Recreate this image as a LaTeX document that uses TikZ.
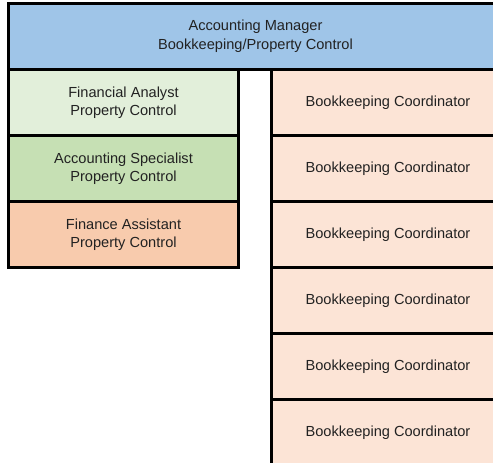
\documentclass[tikz,border=0pt]{standalone}
\usepackage{fontspec}
\setmainfont{Liberation Sans}
\definecolor{mgrblue}{HTML}{9FC5E8}
\definecolor{analystgreen}{HTML}{E2EFDA}
\definecolor{specgreen}{HTML}{C6E0B4}
\definecolor{assistorange}{HTML}{F8CBAD}
\definecolor{bookpeach}{HTML}{FCE4D6}
\definecolor{txt}{HTML}{222222}
\begin{document}
\begin{tikzpicture}[x=1pt,y=-1pt,
  cell/.style={rectangle, outer sep=0pt, inner sep=0pt,
    anchor=north west, align=center, text=txt, minimum height=66pt,
    font=\fontsize{14.6}{18.5}\selectfont},
  leftcell/.style={cell, minimum width=230pt},
  rightcell/.style={cell, minimum width=221.5pt, fill=bookpeach},
  rule/.style={draw=black, line width=3pt, line cap=rect}]
\useasboundingbox (0,0) rectangle (493,463);
\node[cell, fill=mgrblue, minimum width=484.5pt] (mgr) at (8.5,3.5)
  {\hspace*{9.5pt}\begin{tabular}{@{}c@{}}Accounting Manager\\[0.5pt]Bookkeeping/Property Control\end{tabular}};
\node[leftcell, fill=analystgreen] (fa) at (8.5,69.5) {Financial Analyst\\Property Control};
\node[leftcell, fill=specgreen] (as) at (8.5,135.5) {Accounting Specialist\\Property Control};
\node[leftcell, fill=assistorange] (fin) at (8.5,201.5) {Finance Assistant\\Property Control};
\node[rightcell] (bc1) at (271.5,69.5) {\hspace*{11.5pt}Bookkeeping Coordinator};
\node[rightcell] (bc2) at (271.5,135.5) {\hspace*{11.5pt}Bookkeeping Coordinator};
\node[rightcell] (bc3) at (271.5,201.5) {\hspace*{11.5pt}Bookkeeping Coordinator};
\node[rightcell] (bc4) at (271.5,267.5) {\hspace*{11.5pt}Bookkeeping Coordinator};
\node[rightcell] (bc5) at (271.5,333.5) {\hspace*{11.5pt}Bookkeeping Coordinator};
\node[rightcell] (bc6) at (271.5,399.5) {\hspace*{11.5pt}Bookkeeping Coordinator};
% grid rules
\draw[rule] (mgr.north east) -- (mgr.north west) -- (fin.south west) -- (fin.south east) -- (fa.north east);
\draw[rule] (mgr.south west) -- (mgr.south east);
\draw[rule] (fa.south west) -- (fa.south east);
\draw[rule] (as.south west) -- (as.south east);
\draw[rule] (bc1.north west) -- (bc6.south west);
\foreach \c in {bc1,bc2,bc3,bc4,bc5}
  \draw[rule] (\c.south west) -- (\c.south east);
\end{tikzpicture}
\end{document}
